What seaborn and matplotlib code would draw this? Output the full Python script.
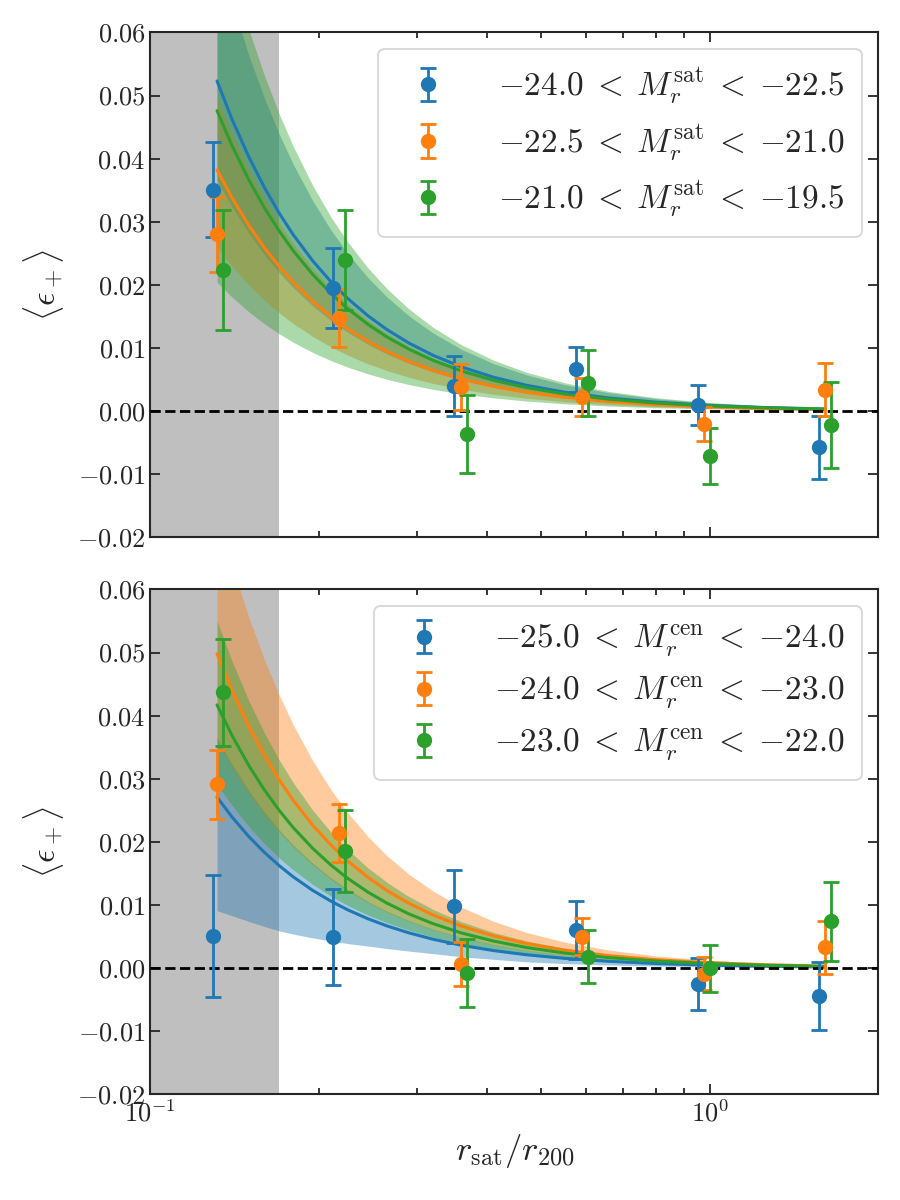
import numpy as np
import matplotlib
matplotlib.use("Agg")
import matplotlib.pyplot as plt
import seaborn as sns
from matplotlib.ticker import FuncFormatter, LogLocator

sns.set_style("ticks")
plt.rcParams["mathtext.fontset"] = "cm"
plt.rcParams["font.family"] = ["cmr10", "DejaVu Serif"]
plt.rcParams["axes.formatter.use_mathtext"] = True
plt.rcParams["axes.unicode_minus"] = True

colors = ["#1f77b4", "#ff7f0e", "#2ca02c"]

# bin centres of the measurements (blue / orange / green are slightly shifted)
x_blue = [0.1295, 0.2119, 0.3488, 0.5758, 0.9506, 1.569]
x_orange = [0.1316, 0.2173, 0.3586, 0.5905, 0.974, 1.606]
x_green = [0.1349, 0.2226, 0.3677, 0.6058, 0.9987, 1.646]

# --- top panel: bins in satellite magnitude
top_labels = [r"$-24.0\;<\;M_r^{\rm sat}\;<\;{-22.5}$",
              r"$-22.5\;<\;M_r^{\rm sat}\;<\;{-21.0}$",
              r"$-21.0\;<\;M_r^{\rm sat}\;<\;{-19.5}$"]
top_blue = [0.0351, 0.0195, 0.0040, 0.0066, 0.0010, -0.0057]
top_blue_err = [0.0075, 0.0063, 0.0048, 0.0036, 0.0032, 0.0050]
top_orange = [0.0280, 0.0148, 0.0038, 0.0023, -0.0020, 0.0034]
top_orange_err = [0.0060, 0.0046, 0.0036, 0.0030, 0.0027, 0.0042]
top_green = [0.0224, 0.0239, -0.0036, 0.0045, -0.0071, -0.0022]
top_green_err = [0.0095, 0.0079, 0.0062, 0.0052, 0.0044, 0.0068]

# --- bottom panel: bins in central magnitude
bot_labels = [r"$-25.0\;<\;M_r^{\rm cen}\;<\;{-24.0}$",
              r"$-24.0\;<\;M_r^{\rm cen}\;<\;{-23.0}$",
              r"$-23.0\;<\;M_r^{\rm cen}\;<\;{-22.0}$"]
bot_blue = [0.0051, 0.0049, 0.0098, 0.0061, -0.0025, -0.0044]
bot_blue_err = [0.0097, 0.0076, 0.0058, 0.0046, 0.0041, 0.0054]
bot_orange = [0.0291, 0.0214, 0.0007, 0.0050, -0.0009, 0.0033]
bot_orange_err = [0.0055, 0.0046, 0.0035, 0.0029, 0.0026, 0.0042]
bot_green = [0.0437, 0.0186, -0.0008, 0.0018, 0.0000, 0.0074]
bot_green_err = [0.0085, 0.0065, 0.0054, 0.0042, 0.0037, 0.0063]

# model curves + bands
x_model = [0.1316, 0.14, 0.15, 0.16, 0.17, 0.18, 0.195, 0.21, 0.225, 0.245, 0.265,
           0.29, 0.32, 0.36, 0.41, 0.47, 0.55, 0.66, 0.8, 1.0, 1.25, 1.606]

top_blue_fit = [0.0523, 0.04622, 0.04026, 0.03539, 0.03135, 0.02796, 0.02383, 0.02055, 0.01789, 0.01509, 0.0129,
                0.01077, 0.00885, 0.00699, 0.00539, 0.0041, 0.003, 0.00208, 0.00142, 0.00091, 0.00058, 0.00035]
top_blue_lo = [0.0366, 0.03235, 0.02818, 0.02476, 0.02194, 0.01957, 0.01667, 0.01438, 0.01252, 0.01056, 0.00903,
               0.00754, 0.00619, 0.00489, 0.00377, 0.00287, 0.0021, 0.00146, 0.00099, 0.00063, 0.00041, 0.00025]
top_blue_hi = [0.0732, 0.0647, 0.05635, 0.04953, 0.04387, 0.03913, 0.03335, 0.02876, 0.02504, 0.02113, 0.01806,
               0.01508, 0.01238, 0.00978, 0.00754, 0.00574, 0.00419, 0.00291, 0.00198, 0.00127, 0.00081, 0.00049]
top_orange_fit = [0.0382, 0.03378, 0.02942, 0.02586, 0.0229, 0.02043, 0.01741, 0.01501, 0.01307, 0.01103, 0.00943,
                  0.00787, 0.00647, 0.00511, 0.00394, 0.003, 0.00219, 0.00152, 0.00103, 0.00066, 0.00042, 0.00026]
top_orange_lo = [0.026, 0.02296, 0.02, 0.01758, 0.01557, 0.01389, 0.01184, 0.01021, 0.00889, 0.0075, 0.00641,
                 0.00535, 0.0044, 0.00347, 0.00268, 0.00204, 0.00149, 0.00103, 0.0007, 0.00045, 0.00029, 0.00017]
top_orange_hi = [0.0497, 0.04393, 0.03826, 0.03363, 0.02979, 0.02657, 0.02264, 0.01953, 0.017, 0.01434, 0.01226,
                 0.01024, 0.00841, 0.00664, 0.00512, 0.0039, 0.00285, 0.00198, 0.00135, 0.00086, 0.00055, 0.00033]
top_green_fit = [0.0476, 0.04204, 0.03662, 0.03219, 0.02851, 0.02543, 0.02167, 0.01869, 0.01627, 0.01373, 0.01173,
                 0.0098, 0.00805, 0.00636, 0.0049, 0.00373, 0.00272, 0.00189, 0.00129, 0.00082, 0.00053, 0.00032]
top_green_lo = [0.02044, 0.01806, 0.01573, 0.01383, 0.01225, 0.01092, 0.00931, 0.00803, 0.00699, 0.0059, 0.00504,
                0.00421, 0.00346, 0.00273, 0.00211, 0.0016, 0.00117, 0.00081, 0.00055, 0.00035, 0.00023, 0.00014]
top_green_hi = [0.0785, 0.06939, 0.06044, 0.05312, 0.04706, 0.04197, 0.03577, 0.03084, 0.02686, 0.02266, 0.01937,
                0.01617, 0.01328, 0.01049, 0.00809, 0.00616, 0.0045, 0.00312, 0.00213, 0.00136, 0.00087, 0.00053]

bot_blue_fit = [0.0271, 0.02393, 0.02084, 0.01832, 0.01623, 0.01447, 0.01233, 0.01064, 0.00926, 0.00781, 0.00668,
                0.00558, 0.00458, 0.00362, 0.00279, 0.00212, 0.00155, 0.00108, 0.00073, 0.00047, 0.0003, 0.00018]
bot_blue_lo = [0.0091, 0.0083, 0.0074, 0.0066, 0.0059, 0.0054, 0.0048, 0.0043, 0.0039, 0.0035, 0.0031,
               0.0027, 0.0023, 0.0018, 0.0014, 0.0010, 0.00072, 0.0005, 0.00034, 0.00022, 0.00014, 0.00009]
bot_blue_hi = [0.03655, 0.0323, 0.02813, 0.02472, 0.0219, 0.01953, 0.01665, 0.01436, 0.0125, 0.01055, 0.00901,
               0.00753, 0.00618, 0.00488, 0.00377, 0.00287, 0.00209, 0.00145, 0.00099, 0.00063, 0.00041, 0.00025]
bot_orange_fit = [0.0498, 0.04398, 0.03831, 0.03367, 0.02983, 0.0266, 0.02267, 0.01955, 0.01702, 0.01436, 0.01227,
                  0.01025, 0.00842, 0.00665, 0.00513, 0.0039, 0.00285, 0.00198, 0.00135, 0.00086, 0.00055, 0.00033]
bot_orange_lo = [0.03586, 0.03168, 0.0276, 0.02426, 0.02149, 0.01916, 0.01633, 0.01408, 0.01226, 0.01035, 0.00884,
                 0.00738, 0.00606, 0.00479, 0.00369, 0.00281, 0.00205, 0.00143, 0.00097, 0.00062, 0.0004, 0.00024]
bot_orange_hi = [0.07218, 0.06378, 0.05555, 0.04883, 0.04325, 0.03858, 0.03288, 0.02835, 0.02469, 0.02083, 0.0178,
                 0.01486, 0.01221, 0.00965, 0.00744, 0.00566, 0.00413, 0.00287, 0.00195, 0.00125, 0.0008, 0.00048]
bot_green_fit = [0.0417, 0.03684, 0.03209, 0.0282, 0.02498, 0.02228, 0.01899, 0.01637, 0.01426, 0.01203, 0.01028,
                 0.00858, 0.00705, 0.00557, 0.0043, 0.00327, 0.00239, 0.00166, 0.00113, 0.00072, 0.00046, 0.00028]
bot_green_lo = [0.02916, 0.02577, 0.02244, 0.01973, 0.01747, 0.01558, 0.01328, 0.01145, 0.00997, 0.00841, 0.00719,
                0.006, 0.00493, 0.0039, 0.003, 0.00229, 0.00167, 0.00116, 0.00079, 0.0005, 0.00032, 0.0002]
bot_green_hi = [0.05503, 0.04862, 0.04235, 0.03722, 0.03297, 0.02941, 0.02506, 0.02161, 0.01882, 0.01588, 0.01357,
                0.01133, 0.00931, 0.00735, 0.00567, 0.00431, 0.00315, 0.00219, 0.00149, 0.00095, 0.00061, 0.00037]

excluded_max = 0.17  # grey region (inner radii)

xs = [x_blue, x_orange, x_green]
panels = [
    (top_labels,
     [top_blue, top_orange, top_green],
     [top_blue_err, top_orange_err, top_green_err],
     [top_blue_fit, top_orange_fit, top_green_fit],
     [top_blue_lo, top_orange_lo, top_green_lo],
     [top_blue_hi, top_orange_hi, top_green_hi]),
    (bot_labels,
     [bot_blue, bot_orange, bot_green],
     [bot_blue_err, bot_orange_err, bot_green_err],
     [bot_blue_fit, bot_orange_fit, bot_green_fit],
     [bot_blue_lo, bot_orange_lo, bot_green_lo],
     [bot_blue_hi, bot_orange_hi, bot_green_hi]),
]

fig, axes = plt.subplots(2, 1, figsize=(9, 12), dpi=100, sharex=True)
fig.subplots_adjust(left=0.167, right=0.976, top=0.973, bottom=0.088, hspace=0.103)

for ax, (labels, ys, errs, fits, los, his) in zip(axes, panels):
    ax.set_xscale("log")
    ax.axvspan(0.09, excluded_max, color="gray", alpha=0.5, lw=0, zorder=0)
    for i in range(3):
        ax.fill_between(x_model, los[i], his[i], color=colors[i], alpha=0.4, lw=0, zorder=1)
        sns.lineplot(x=x_model, y=fits[i], ax=ax, color=colors[i], lw=2.2, zorder=2)
    ax.axhline(0, color="k", ls="--", lw=2, zorder=3)
    for i in range(3):
        ax.errorbar(xs[i], ys[i], yerr=errs[i], fmt="o", color=colors[i], ms=10,
                    elinewidth=2, capsize=6, capthick=2, label=labels[i], zorder=4)

    ax.set_xlim(0.1, 2.0)
    ax.set_ylim(-0.02, 0.06)
    ax.set_yticks(np.arange(-0.02, 0.061, 0.01))
    ax.yaxis.set_major_formatter(FuncFormatter(lambda v, p: r"$%.2f$" % v))
    ax.xaxis.set_major_locator(LogLocator(base=10, numticks=10))
    ax.xaxis.set_minor_locator(LogLocator(base=10, subs=np.arange(2, 10), numticks=10))
    ax.tick_params(which="both", direction="in", top=True, right=True, width=1.3)
    ax.tick_params(which="major", length=7, labelsize=19)
    ax.tick_params(which="minor", length=4)
    for sp in ax.spines.values():
        sp.set_linewidth(1.5)
    ax.set_ylabel(r"$\langle \epsilon_+ \rangle$", fontsize=24, labelpad=8)
    ax.set_xlabel("")
    leg = ax.legend(loc="upper right", fontsize=24, handletextpad=1.1, borderpad=0.5,
                    labelspacing=0.45, framealpha=0.8, fancybox=True)
    leg.get_frame().set_edgecolor("0.8")
    leg.get_frame().set_linewidth(1.3)

axes[0].tick_params(labelbottom=False)
axes[1].set_xlabel(r"$r_{\rm sat}/r_{200}$", fontsize=25, labelpad=4)

fig.savefig("out.png", dpi=100)
